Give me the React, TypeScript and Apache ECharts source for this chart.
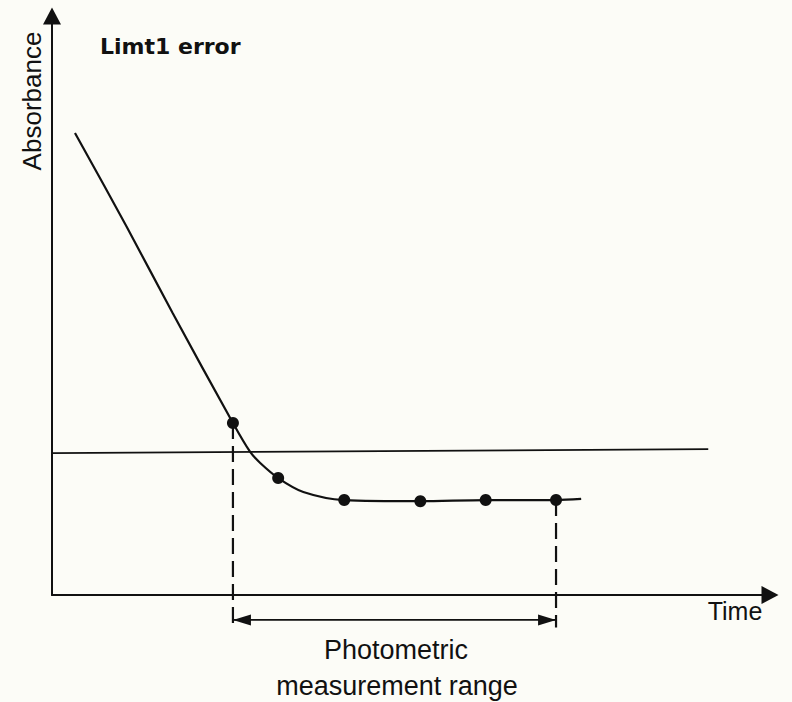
import React, { useEffect, useRef } from "react";
import * as echarts from "echarts";

// Absorbance curve (time, absorbance)
const curveX = [3.2, 10.4, 16.8, 25.2, 27.6, 29.0, 31.5, 35.0, 40.7, 51.3, 60.4, 70.2, 73.7];
const curveY = [79.8, 63.6, 48.7, 29.7, 24.7, 22.8, 20.2, 17.8, 16.4, 16.2, 16.4, 16.4, 16.6];
// Photometric measurement points
const pointX = [25.2, 31.5, 40.7, 51.3, 60.4, 70.2];
const pointY = [29.7, 20.2, 16.4, 16.2, 16.4, 16.4];
// Limit line
const limitX = [0, 91.4];
const limitY = [24.5, 25.2];
// Measurement range (start = first point, end = last point)
const rangeStart = pointX[0];
const rangeEnd = pointX[pointX.length - 1];
const rangeLevel = -4.3;
const dashBottom = -5.6;

const titleText = "Limt1 error";
const yName = "Absorbance";
const xName = "Time";
const rangeLabel = ["Photometric", "measurement range"];

const INK = "#111111";

export default function App() {
  const ref = useRef<HTMLDivElement>(null);
  useEffect(() => {
    if (!ref.current) return;
    const chart = echarts.init(ref.current, undefined, { renderer: "svg" });
    const sans = "'Liberation Sans', Arial, Helvetica, sans-serif";
    chart.setOption({
      animation: false,
      backgroundColor: "#fcfcf7",
      grid: { left: 52, right: 22, top: 16, bottom: 107 },
      xAxis: {
        type: "value",
        min: 0,
        max: 100,
        axisLine: {
          show: true,
          symbol: ["none", "triangle"],
          symbolSize: [18, 17],
          lineStyle: { color: INK, width: 2 },
        },
        axisTick: { show: false },
        axisLabel: { show: false },
        splitLine: { show: false },
      },
      yAxis: {
        type: "value",
        min: 0,
        max: 100,
        axisLine: {
          show: true,
          symbol: ["none", "triangle"],
          symbolSize: [18, 17],
          lineStyle: { color: INK, width: 2 },
        },
        axisTick: { show: false },
        axisLabel: { show: false },
        splitLine: { show: false },
      },
      series: [
        {
          type: "line",
          data: limitX.map((x, i) => [x, limitY[i]]),
          symbol: "none",
          lineStyle: { color: INK, width: 1.8 },
          z: 2,
        },
        {
          type: "line",
          data: curveX.map((x, i) => [x, curveY[i]]),
          symbol: "none",
          smooth: 0.3,
          lineStyle: { color: INK, width: 2.2 },
          z: 3,
        },
        {
          type: "line",
          clip: false,
          data: [
            [rangeStart, pointY[0]],
            [rangeStart, dashBottom],
          ],
          symbol: "none",
          lineStyle: { color: INK, width: 2.2, type: [16, 7] },
          z: 2,
        },
        {
          type: "line",
          clip: false,
          data: [
            [rangeEnd, pointY[pointY.length - 1]],
            [rangeEnd, dashBottom],
          ],
          symbol: "none",
          lineStyle: { color: INK, width: 2.2, type: [16, 7] },
          z: 2,
        },
        {
          type: "line",
          clip: false,
          data: [
            [rangeStart, rangeLevel],
            [rangeEnd, rangeLevel],
          ],
          symbol: "none",
          lineStyle: { color: INK, width: 1.8 },
          z: 2,
        },
        {
          type: "scatter",
          clip: false,
          symbol: "triangle",
          symbolSize: [11, 18],
          itemStyle: { color: INK, opacity: 1 },
          data: [
            { value: [rangeStart, rangeLevel], symbolRotate: 90, symbolOffset: [9, 0] },
            { value: [rangeEnd, rangeLevel], symbolRotate: -90, symbolOffset: [-9, 0] },
          ],
          z: 4,
        },
        {
          type: "scatter",
          data: pointX.map((x, i) => [x, pointY[i]]),
          symbol: "circle",
          symbolSize: 12,
          itemStyle: { color: INK, opacity: 1 },
          z: 5,
        },
      ],
      graphic: [
        {
          type: "text",
          left: 100,
          top: 35,
          style: {
            text: titleText,
            fontFamily: "'DejaVu Sans', sans-serif",
            fontWeight: "bold",
            fontSize: 22,
            fill: INK,
          },
        },
        {
          type: "text",
          x: 32,
          y: 101,
          rotation: Math.PI / 2,
          style: {
            text: yName,
            fontFamily: sans,
            fontSize: 26,
            fill: INK,
            align: "center",
            verticalAlign: "middle",
          },
        },
        {
          type: "text",
          x: 735,
          y: 611,
          style: {
            text: xName,
            fontFamily: sans,
            fontSize: 25,
            fill: INK,
            align: "center",
            verticalAlign: "middle",
          },
        },
        {
          type: "text",
          x: 396,
          y: 650,
          style: {
            text: rangeLabel[0],
            fontFamily: sans,
            fontSize: 27,
            fill: INK,
            align: "center",
            verticalAlign: "middle",
          },
        },
        {
          type: "text",
          x: 397,
          y: 686,
          style: {
            text: rangeLabel[1],
            fontFamily: sans,
            fontSize: 27,
            fill: INK,
            align: "center",
            verticalAlign: "middle",
          },
        },
      ],
    });
    return () => chart.dispose();
  }, []);
  return (
    <div
      ref={ref}
      style={{ position: "absolute", left: 0, top: 0, width: 792, height: 702 }}
    />
  );
}
